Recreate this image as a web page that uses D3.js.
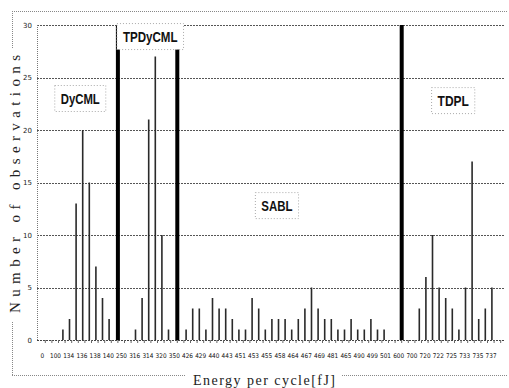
<!DOCTYPE html>
<html>
<head>
<meta charset="utf-8">
<script src="https://cdn.jsdelivr.net/npm/d3@7/dist/d3.min.js"></script>
<style>
  body { margin: 0; background: #fff; }
  svg { display: block; }
</style>
</head>
<body>
<div id="chart"></div>
<script>
// x tick labels, one on every second category
const tickLabels = ["0", "100", "134", "136", "138", "140", "250", "316", "314", "320",
  "350", "426", "429", "440", "443", "451", "453", "455", "458", "464", "467", "469",
  "481", "465", "490", "499", "501", "600", "700", "720", "722", "725", "733", "735", "737"];

// observations per category (70 categories)
// DyCML / TPDyCML / TDPL bars
const cmlValues = [
  0, 0, 0, 1, 2, 13, 20, 15, 7, 4,
  2, 0, 0, 0, 1, 4, 21, 27, 10, 1,
  0, 0, 0, 0, 0, 0, 0, 0, 0, 0,
  0, 0, 0, 0, 0, 0, 0, 0, 0, 0,
  0, 0, 0, 0, 0, 0, 0, 0, 0, 0,
  0, 0, 0, 0, 0, 0, 0, 3, 6, 10,
  5, 4, 3, 1, 5, 17, 2, 3, 5, 0
];
// SABL bars
const sablValues = [
  0, 0, 0, 0, 0, 0, 0, 0, 0, 0,
  0, 0, 0, 0, 0, 0, 0, 0, 0, 0,
  0, 1, 3, 3, 1, 4, 3, 3, 2, 1,
  1, 4, 3, 1, 2, 2, 2, 1, 2, 3,
  5, 3, 2, 2, 1, 1, 2, 1, 1, 2,
  1, 1, 0, 0, 0, 0, 0, 0, 0, 0,
  0, 0, 0, 0, 0, 0, 0, 0, 0, 0
];
// thick separator bars between the logic styles
const dividerValues = [
  0, 0, 0, 0, 0, 0, 0, 0, 0, 0,
  0, 30, 0, 0, 0, 0, 0, 0, 0, 0,
  30, 0, 0, 0, 0, 0, 0, 0, 0, 0,
  0, 0, 0, 0, 0, 0, 0, 0, 0, 0,
  0, 0, 0, 0, 0, 0, 0, 0, 0, 0,
  0, 0, 0, 0, 30, 0, 0, 0, 0, 0,
  0, 0, 0, 0, 0, 0, 0, 0, 0, 0
];

const yTicks = [0, 5, 10, 15, 20, 25, 30];

// group names, placed in data coordinates (category, value)
const groupNames = ["DyCML", "TPDyCML", "SABL", "TDPL"];
const groupCats = [5.3, 15.9, 35.1, 61.8];
const groupVals = [23.0, 28.9, 12.8, 22.8];

const width = 509, height = 388;
const plot = { left: 37, right: 505, top: 25, bottom: 340 };

const svg = d3.select("#chart").append("svg")
  .attr("width", width)
  .attr("height", height)
  .style("font-family", "'Liberation Sans', Arial, sans-serif");

const n = cmlValues.length;
const x = d3.scaleBand().domain(d3.range(n)).range([42, 504]).padding(0);
const inner = d3.scaleBand().domain(["cml", "divider", "sabl"]).range([0, x.bandwidth()]);
const y = d3.scaleLinear().domain([0, 30]).range([plot.bottom, plot.top]);

// outer chart frame (dotted, broken by the titles)
const frame = svg.append("g")
  .attr("stroke", "#888")
  .attr("stroke-width", 1)
  .attr("stroke-dasharray", "1,1")
  .attr("fill", "none");
frame.append("line").attr("x1", 12).attr("x2", 508).attr("y1", 11.5).attr("y2", 11.5);
frame.append("line").attr("x1", 12.5).attr("x2", 12.5).attr("y1", 11).attr("y2", 48);
frame.append("line").attr("x1", 12.5).attr("x2", 12.5).attr("y1", 322).attr("y2", 375);
frame.append("line").attr("x1", 12).attr("x2", 186).attr("y1", 375.5).attr("y2", 375.5);
frame.append("line").attr("x1", 342).attr("x2", 508).attr("y1", 375.5).attr("y2", 375.5);

// horizontal grid lines
svg.append("g")
  .selectAll("line")
  .data(yTicks.filter((d) => d > 0))
  .enter()
  .append("line")
  .attr("x1", plot.left)
  .attr("x2", plot.right)
  .attr("y1", (d) => Math.round(y(d)) + 0.5)
  .attr("y2", (d) => Math.round(y(d)) + 0.5)
  .attr("stroke", "#555")
  .attr("stroke-dasharray", "2,1");

// left edge of the plot area
svg.append("line")
  .attr("x1", plot.left + 0.5)
  .attr("x2", plot.left + 0.5)
  .attr("y1", plot.top)
  .attr("y2", plot.bottom)
  .attr("stroke", "#777")
  .attr("stroke-dasharray", "1,1");

// y axis labels
const yAxis = svg.append("g")
  .attr("transform", `translate(${plot.left},0)`)
  .call(d3.axisLeft(y).tickValues(yTicks).tickSize(0).tickPadding(5));
yAxis.select(".domain").remove();
yAxis.selectAll("text")
  .style("font-size", "7px")
  .style("font-family", "'DejaVu Sans', sans-serif")
  .attr("fill", "#222");

// bars
function drawBars(values, key, barWidth, color) {
  const data = values.map((v, i) => ({ i, v })).filter((d) => d.v > 0);
  svg.append("g")
    .selectAll("rect")
    .data(data)
    .enter()
    .append("rect")
    .attr("x", (d) => x(d.i) + inner(key) + inner.bandwidth() / 2 - barWidth / 2)
    .attr("y", (d) => y(d.v))
    .attr("width", barWidth)
    .attr("height", (d) => y(0) - y(d.v))
    .attr("fill", color);
}
drawBars(cmlValues, "cml", 1.6, "#2a2a2a");
drawBars(sablValues, "sabl", 1.6, "#2a2a2a");
drawBars(dividerValues, "divider", 4, "#000");

// x axis
const xAxis = svg.append("g")
  .attr("transform", `translate(0,${plot.bottom})`)
  .call(d3.axisBottom(x)
    .tickSize(3)
    .tickPadding(10)
    .tickFormat((d) => (d % 2 === 0 ? tickLabels[d / 2] : "")));
xAxis.select(".domain")
  .attr("stroke", "#444")
  .attr("stroke-dasharray", "2,1")
  .attr("d", `M${plot.left},0.5H${plot.right}`);
xAxis.selectAll(".tick line").attr("stroke", "#666");
xAxis.selectAll("text")
  .attr("dx", -3)
  .style("font-size", "6.4px")
  .style("font-family", "'DejaVu Sans Condensed', 'DejaVu Sans', sans-serif")
  .attr("fill", "#111");

// group name boxes
const boxes = svg.append("g");
groupNames.forEach((name, gi) => {
  const cx = x(0) + x.step() * groupCats[gi] + x.bandwidth() / 2;
  const cy = y(groupVals[gi]);
  const textW = name.length * 7.8;
  const bw = textW + 12, bh = 26;
  boxes.append("rect")
    .attr("x", cx - bw / 2)
    .attr("y", cy - bh / 2)
    .attr("width", bw)
    .attr("height", bh)
    .attr("fill", "#fff")
    .attr("stroke", "#aaa")
    .attr("stroke-dasharray", "1,2");
  boxes.append("text")
    .attr("x", cx)
    .attr("y", cy + 5)
    .attr("text-anchor", "middle")
    .attr("textLength", textW)
    .attr("lengthAdjust", "spacingAndGlyphs")
    .style("font-size", "15px")
    .style("font-weight", "bold")
    .attr("fill", "#111")
    .text(name);
});

// axis titles
svg.append("text")
  .attr("transform", "translate(20,184) rotate(-90)")
  .attr("text-anchor", "middle")
  .attr("textLength", 258)
  .attr("lengthAdjust", "spacing")
  .style("font-family", "'Liberation Serif', 'DejaVu Serif', serif")
  .style("font-size", "15px")
  .attr("fill", "#222")
  .text("Number of observations");

svg.append("text")
  .attr("x", 264)
  .attr("y", 385)
  .attr("text-anchor", "middle")
  .attr("textLength", 142)
  .attr("lengthAdjust", "spacing")
  .style("font-family", "'Liberation Serif', 'DejaVu Serif', serif")
  .style("font-size", "14px")
  .attr("fill", "#222")
  .text("Energy per cycle[fJ]");
</script>
</body>
</html>
